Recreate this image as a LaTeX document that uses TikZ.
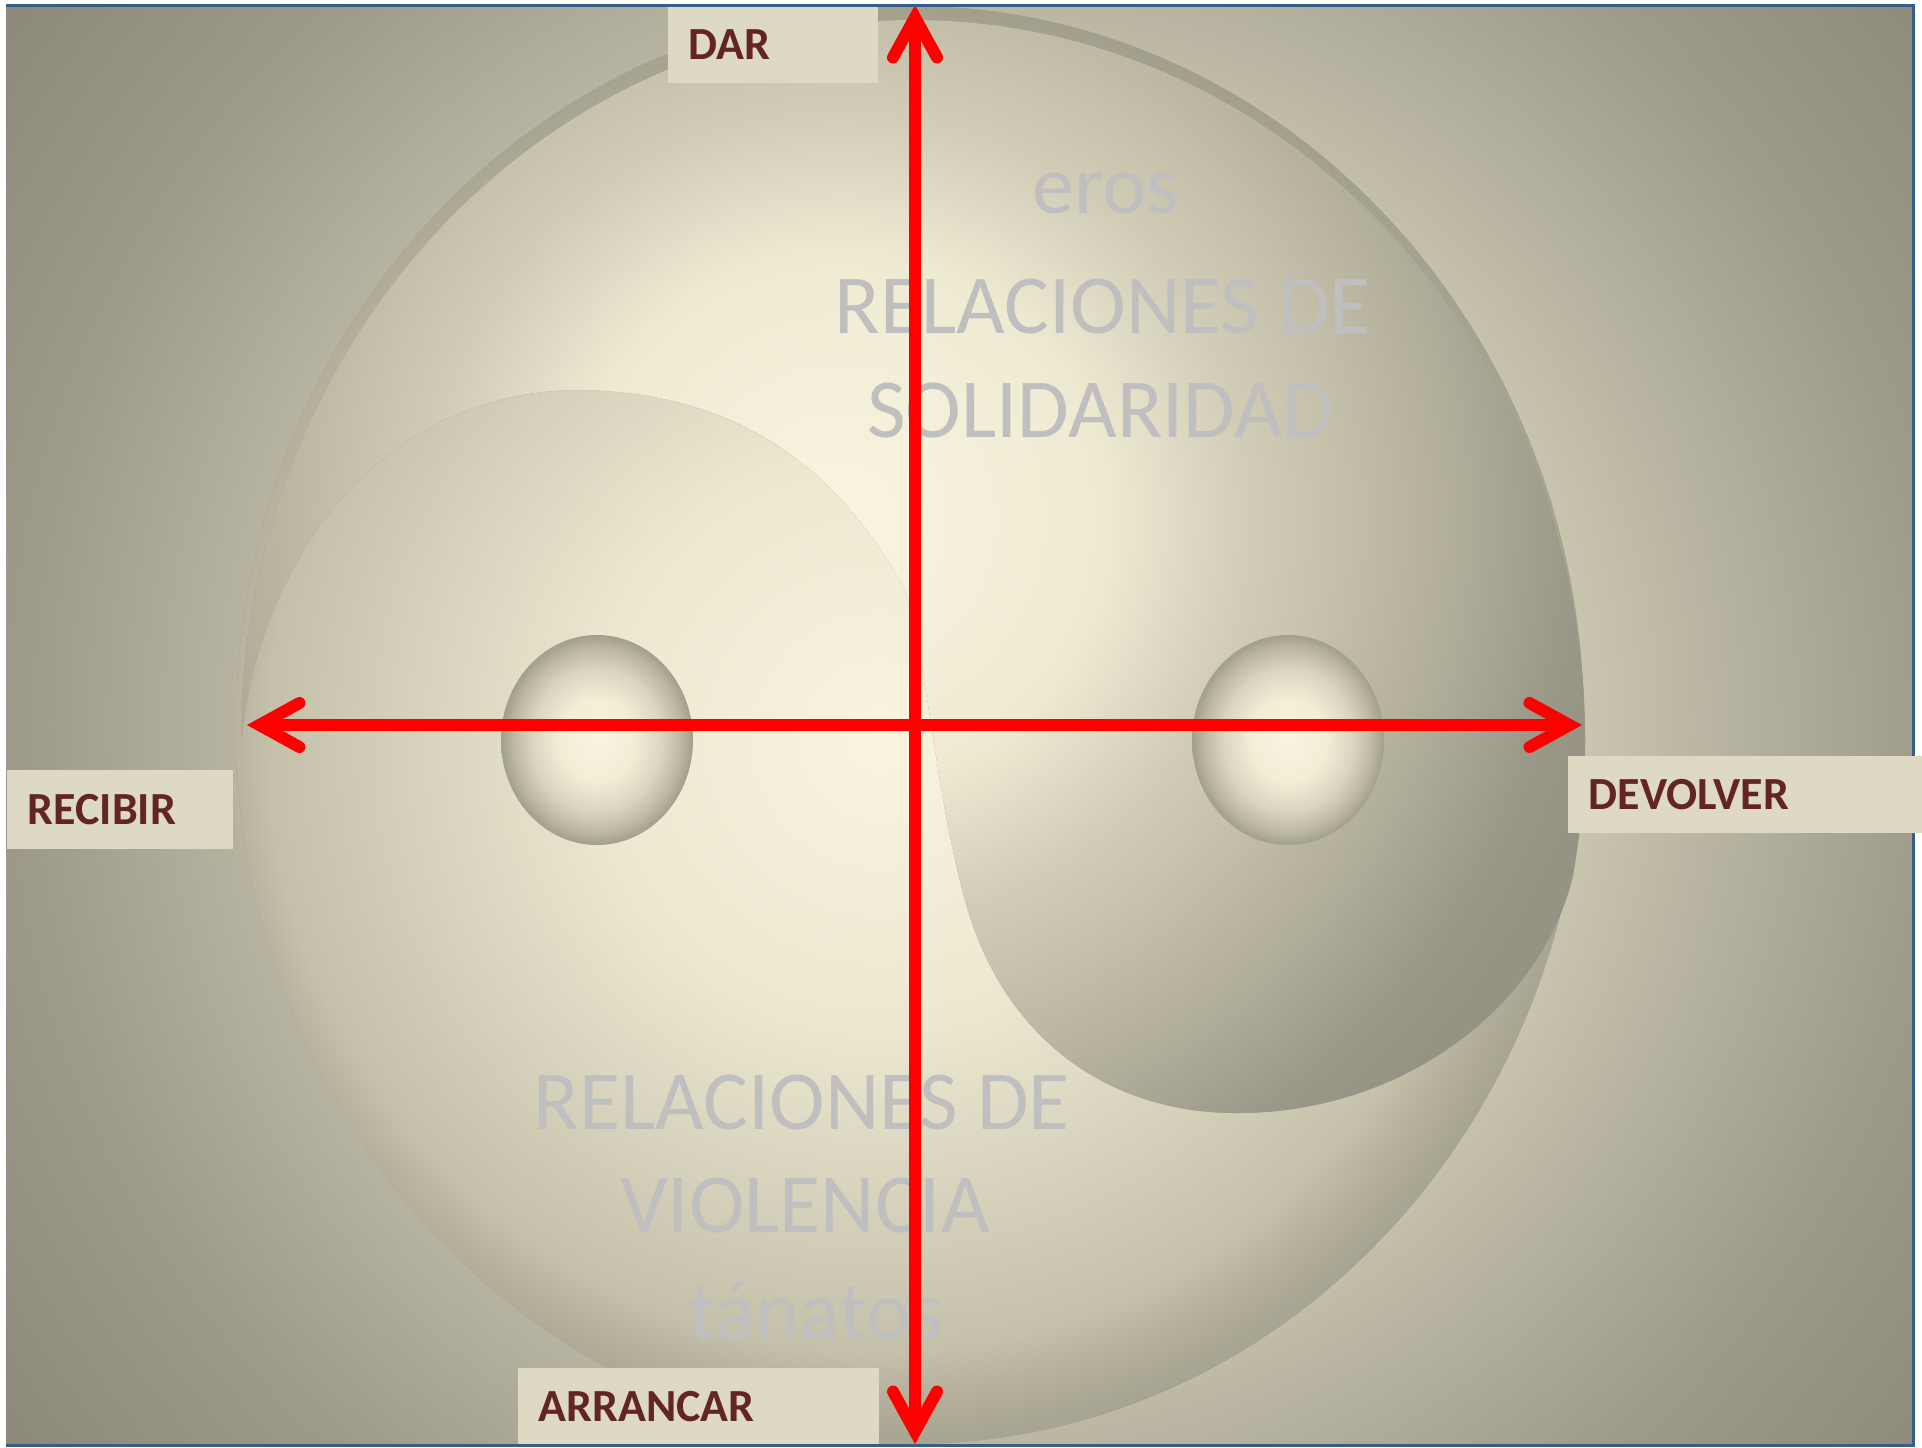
\documentclass[tikz,border=0pt]{standalone}
\usepackage{fontspec}
\setmainfont{Carlito}
\usetikzlibrary{arrows.meta}

\definecolor{boxfill}{RGB}{221,217,195}
\definecolor{lblred}{RGB}{99,37,35}
\definecolor{txtgrey}{RGB}{191,191,191}
\definecolor{axisred}{RGB}{255,0,0}
\definecolor{frameblue}{RGB}{56,93,138}

\definecolor{bgA}{RGB}{228,223,200}
\definecolor{bgB}{RGB}{202,197,175}
\definecolor{bgC}{RGB}{181,177,159}
\definecolor{bgD}{RGB}{158,155,139}
\definecolor{bgE}{RGB}{139,136,121}
\definecolor{dkA}{RGB}{249,244,222}
\definecolor{dkB}{RGB}{237,232,208}
\definecolor{dkC}{RGB}{197,192,170}
\definecolor{dkD}{RGB}{181,177,157}
\definecolor{dkE}{RGB}{168,165,146}
\definecolor{dkF}{RGB}{158,155,137}
\definecolor{lbA}{RGB}{250,245,223}
\definecolor{lbB}{RGB}{239,234,210}
\definecolor{lbC}{RGB}{210,205,183}
\definecolor{lbD}{RGB}{200,195,173}
\definecolor{lbE}{RGB}{188,184,163}
\definecolor{lbF}{RGB}{174,171,152}
\definecolor{lbG}{RGB}{154,152,136}
\definecolor{lbH}{RGB}{149,147,131}
\definecolor{eyA}{RGB}{249,244,222}
\definecolor{eyB}{RGB}{242,237,213}
\definecolor{eyC}{RGB}{218,213,191}
\definecolor{eyD}{RGB}{187,183,163}
\definecolor{eyE}{RGB}{161,159,141}

\pgfdeclareradialshading{bgglow}{\pgfpointorigin}{color(0bp)=(bgA); color(12.3bp)=(bgB); color(15.6bp)=(bgC); color(19.5bp)=(bgD); color(25bp)=(bgE); color(50bp)=(bgE)}
\pgfdeclareradialshading{diskglow}{\pgfpointorigin}{color(0bp)=(dkA); color(9.2bp)=(dkB); color(20.1bp)=(dkC); color(21.5bp)=(dkD); color(23bp)=(dkE); color(25bp)=(dkF); color(50bp)=(dkF)}
\pgfdeclareradialshading{lobeglow}{\pgfpointorigin}{color(0bp)=(lbA); color(8.33bp)=(lbB); color(12.8bp)=(lbC); color(15.06bp)=(lbD); color(17.3bp)=(lbE); color(19.87bp)=(lbF); color(23.08bp)=(lbG); color(25bp)=(lbH); color(50bp)=(lbH)}
\pgfdeclareradialshading{eyeglow}{\pgfpointorigin}{color(0bp)=(eyA); color(10bp)=(eyB); color(17bp)=(eyC); color(22bp)=(eyD); color(25bp)=(eyE); color(50bp)=(eyE)}

\tikzset{every picture/.style={line width=0.75pt}}
\tikzset{
  lblbox/.style={fill=boxfill, text=lblred, font=\fontsize{23}{27}\selectfont\bfseries, inner xsep=10.5pt, inner ysep=0pt, minimum height=38.5pt, anchor=north west, align=left},
  bigtxt/.style={text=txtgrey, font=\fontsize{42}{50}\selectfont, inner sep=0pt, anchor=base},
  redaxis/.style={draw=axisred, line width=6pt, >={Straight Barb[length=20pt,width=22pt,line cap=round]}, <->},
}

\begin{document}
\begin{tikzpicture}[x=0.5pt,y=0.5pt,yscale=-1,xscale=1]
\useasboundingbox (0,0) rectangle (1922,1447);
\fill[white] (0,0) rectangle (1922,1447);

%Shape: Rectangle [background]
\begin{scope}
\clip (6,5) rectangle (1913,1445);
\shade[shading=bgglow] (980,724) circle (1220);
\end{scope}

%Shape: Ellipse [disk]
\begin{scope}
\clip (910,725) ellipse [x radius=674, y radius=719];
\fill[dkF] (200,0) rectangle (1600,1447);
\shade[shading=diskglow] (880,740) circle (760);
\end{scope}

%Shape: Free Drawing [upper half and lower right lobe]
\begin{scope}
\clip (241,740) arc [start angle=180, end angle=371, x radius=672, y radius=720]
  .. controls (1540,1010) and (1400,1113) .. (1237,1113)
  .. controls (1100,1113) and (1000,1030) .. (965,900)
  .. controls (935,790) and (930,680) .. (905,590)
  .. controls (840,470) and (740,392) .. (580,390)
  .. controls (380,390) and (260,560) .. (241,740) -- cycle;
\fill[lbH] (200,0) rectangle (1600,1447);
\shade[shading=lobeglow] (840,520) circle (790);
\end{scope}

%Shape: Ellipse [eyes]
\shade[shading=eyeglow] (597,740) ellipse [x radius=96, y radius=105];
\shade[shading=eyeglow] (1288,740) ellipse [x radius=96, y radius=105];

%Text boxes
\node[bigtxt] (eros) at (1106,213) {eros};
\node[bigtxt] (solA) at (1103,333) {RELACIONES DE};
\node[bigtxt] (solB) at (1101,437) {SOLIDARIDAD};
\node[bigtxt] (vioA) at (802,1129) {RELACIONES DE};
\node[bigtxt] (vioB) at (805,1232) {VIOLENCIA};
\node[bigtxt] (tana) at (816,1339) {tánatos};

%Straight Lines [axes]
\coordinate (dartip) at (915,5);
\coordinate (arrtip) at (915,1444);
\coordinate (rectip) at (247,725);
\coordinate (devtip) at (1582,725);
\draw[redaxis] (arrtip) -- (dartip);
\draw[redaxis] (rectip) -- (devtip);

\node[lblbox, text width=84pt] (dar) at (667,5) {DAR};
\node[lblbox, text width=92pt, minimum height=39.5pt] (recibir) at (6,769) {RECIBIR};
\node[lblbox, text width=159.5pt] (arrancar) at (517,1367) {ARRANCAR};

%Shape: Frame
\draw[frameblue, line width=1.5pt] (6,5) -- (1913,5) -- (1913,1445) -- (6,1445);

\node[lblbox, text width=156.5pt] (devolver) at (1567,755) {DEVOLVER};

\end{tikzpicture}
\end{document}
